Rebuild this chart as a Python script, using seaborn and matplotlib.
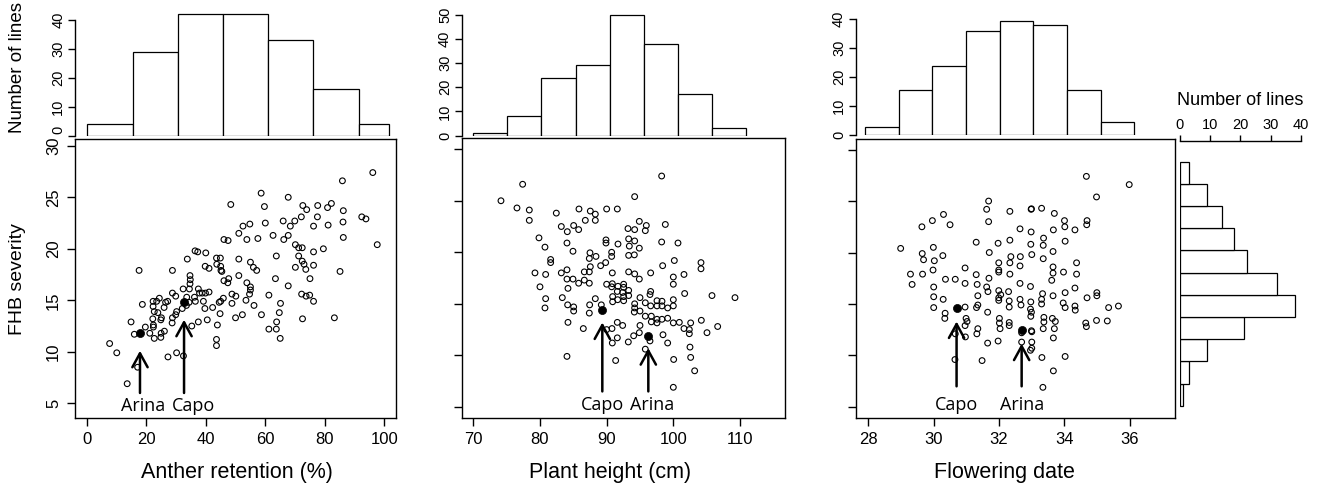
import numpy as np
import matplotlib
matplotlib.use("Agg")
import matplotlib.pyplot as plt
import matplotlib.transforms as mtransforms
import seaborn as sns

# %% data
# scatter points (trait value, FHB severity)
anther_pts = [
    (96.1, 27.4), (85.9, 26.6), (58.6, 25.4), (67.7, 25.0), (48.4, 24.3), (59.7, 24.1), (72.6, 24.2),
    (77.6, 24.2), (82.2, 24.4), (73.9, 23.8), (80.9, 24.0), (86.2, 23.7), (92.4, 23.1), (93.8, 22.9),
    (77.5, 23.1), (72.1, 23.1), (66.0, 22.7), (69.9, 22.7), (52.5, 22.2), (54.8, 22.4), (68.4, 22.2),
    (76.2, 22.2), (81.1, 22.3), (51.1, 21.5), (53.8, 20.9), (62.6, 21.3), (67.7, 21.3), (66.2, 20.9),
    (86.1, 22.6), (86.2, 21.1), (97.6, 20.4), (46.1, 20.9), (47.5, 20.8), (57.5, 21.0), (60.0, 22.5),
    (70.1, 20.4), (71.2, 20.1), (72.4, 20.1), (79.5, 20.0), (76.2, 19.7), (63.7, 19.3), (71.2, 19.3),
    (72.4, 18.8), (36.4, 19.8), (37.3, 19.7), (40.0, 19.6), (33.8, 19.0), (43.6, 19.1), (44.9, 19.1),
    (51.1, 19.0), (55.0, 18.7), (56.0, 18.2), (57.1, 17.9), (73.0, 18.5), (76.2, 18.4), (70.1, 18.2),
    (73.6, 18.0), (17.6, 17.9), (28.8, 17.9), (39.8, 18.3), (41.1, 18.1), (43.7, 18.5), (45.0, 18.3),
    (45.1, 17.9), (45.4, 17.8), (34.7, 17.4), (34.8, 17.0), (34.7, 16.6), (34.5, 16.1), (37.5, 16.1),
    (39.9, 15.7), (41.1, 15.8), (38.8, 15.7), (46.1, 16.9), (47.7, 17.1), (47.4, 16.7), (51.1, 17.4),
    (53.8, 16.7), (55.0, 16.3), (55.0, 16.0), (54.7, 15.6), (53.5, 15.0), (50.1, 15.4), (48.8, 15.6),
    (45.9, 15.2), (45.0, 14.9), (48.8, 14.7), (63.4, 17.1), (67.7, 16.4), (75.0, 17.1), (74.9, 15.5),
    (72.2, 15.6), (73.7, 15.4), (76.2, 14.9), (72.5, 13.2), (85.1, 17.8), (83.2, 13.3), (61.2, 15.5),
    (65.1, 14.7), (64.7, 13.8), (63.8, 12.9), (58.7, 13.6), (56.2, 14.5), (52.3, 13.6), (50.0, 13.3),
    (44.8, 13.7), (44.5, 14.8), (42.3, 14.3), (39.7, 14.2), (40.5, 13.1), (37.9, 15.7), (36.2, 15.3),
    (33.6, 15.3), (32.4, 16.1), (28.8, 15.7), (29.9, 15.4), (26.5, 14.8), (26.0, 14.3), (27.2, 14.9),
    (24.4, 15.2), (23.5, 14.9), (22.3, 14.9), (22.3, 14.4), (22.7, 13.9), (22.2, 13.2), (23.9, 13.8),
    (24.9, 13.1), (25.1, 13.3), (28.8, 13.3), (29.9, 13.6), (30.2, 13.9), (32.1, 14.2), (33.5, 14.5),
    (34.4, 14.8), (36.5, 14.9), (39.2, 14.9), (37.5, 12.9), (14.9, 12.9), (18.7, 14.6), (19.7, 12.4),
    (22.4, 12.6), (22.4, 12.4), (28.7, 12.8), (43.9, 12.6), (61.2, 12.2), (63.7, 12.2), (65.0, 11.3),
    (16.0, 11.7), (21.2, 11.8), (22.7, 11.3), (24.9, 11.4), (25.0, 11.8), (26.1, 12.0), (7.7, 10.8),
    (10.1, 9.9), (27.3, 9.5), (30.2, 9.9), (32.5, 9.6), (17.1, 8.5), (13.6, 6.9), (43.6, 11.2),
    (43.6, 10.6), (35.3, 12.5),
]
height_pts = [
    (98.25, 27.4), (77.4, 26.6), (74.15, 25.0), (76.55, 24.3), (78.4, 24.1), (78.4, 23.1), (82.45, 23.8),
    (85.85, 24.2), (87.55, 24.0), (88.3, 23.7), (88.3, 23.1), (86.8, 23.1), (90.0, 24.2), (91.6, 24.2),
    (94.2, 25.4), (83.2, 22.5), (84.1, 22.0), (85.05, 22.6), (85.8, 22.2), (93.2, 22.3), (94.2, 22.2),
    (94.9, 23.0), (95.8, 22.1), (95.95, 22.6), (98.8, 22.7), (79.85, 21.4), (80.75, 20.5), (84.05, 20.9),
    (84.95, 20.1), (81.6, 19.3), (81.6, 19.0), (89.9, 21.2), (89.9, 20.9), (91.7, 20.8), (93.3, 21.3),
    (94.2, 21.1), (93.4, 20.6), (94.9, 20.4), (90.75, 20.0), (90.75, 19.6), (87.5, 19.95), (87.4, 19.4),
    (88.4, 19.6), (93.3, 19.7), (94.15, 19.75), (98.25, 21.0), (100.7, 20.9), (100.15, 19.2), (98.4, 18.7),
    (104.15, 19.0), (104.15, 18.4), (89.85, 19.0), (89.1, 18.7), (79.25, 18.0), (80.85, 17.85), (83.2, 18.0),
    (84.05, 18.3), (84.05, 17.4), (84.95, 17.4), (85.8, 17.0), (86.65, 18.1), (86.65, 17.3), (87.55, 18.6),
    (87.4, 18.1), (87.4, 17.0), (90.85, 18.0), (93.3, 18.1), (94.2, 17.9), (94.9, 17.4), (96.6, 18.0),
    (100.0, 17.6), (100.0, 16.9), (101.6, 17.85), (80.0, 16.65), (84.2, 16.5), (80.85, 15.5), (80.75, 14.6),
    (83.35, 15.6), (84.15, 14.9), (85.05, 14.7), (85.05, 14.3), (87.45, 14.9), (87.4, 14.1), (88.3, 15.5),
    (89.2, 14.9), (90.0, 16.9), (90.85, 16.95), (90.75, 16.65), (91.7, 16.7), (92.55, 16.9), (92.55, 16.6),
    (91.6, 16.2), (92.4, 16.1), (93.3, 16.3), (93.3, 15.8), (90.9, 15.7), (90.9, 15.2), (91.65, 15.4),
    (92.55, 15.7), (92.55, 15.3), (95.0, 15.6), (96.6, 16.2), (96.5, 15.9), (94.2, 15.0), (94.2, 14.6),
    (94.15, 14.2), (95.0, 14.3), (95.8, 15.1), (96.6, 14.8), (97.55, 15.3), (98.3, 15.25), (97.55, 14.8),
    (98.3, 14.8), (99.15, 14.6), (100.0, 15.4), (100.0, 14.8), (101.7, 16.0), (105.8, 15.8), (109.25, 15.6),
    (95.8, 13.8), (96.7, 13.8), (97.55, 13.5), (98.3, 13.5), (99.15, 13.6), (96.7, 13.25), (97.55, 13.15),
    (100.0, 13.15), (100.9, 13.2), (102.6, 13.15), (104.2, 13.4), (106.65, 12.8), (84.2, 13.2), (86.5, 12.6),
    (91.6, 13.2), (92.4, 12.9), (95.0, 12.9), (101.6, 12.6), (90.0, 12.5), (90.8, 12.6), (91.6, 11.7),
    (90.85, 11.2), (93.25, 11.3), (94.05, 11.9), (94.9, 12.2), (96.5, 11.4), (98.45, 12.0), (99.15, 11.2),
    (102.4, 12.5), (102.4, 12.1), (102.5, 10.8), (102.6, 9.8), (103.2, 8.5), (105.05, 12.2), (95.8, 10.6),
    (100.05, 9.6), (100.0, 6.9), (91.35, 9.5), (84.05, 9.9),
]
flower_pts = [
    (34.67, 27.4), (35.98, 26.6), (34.98, 25.4), (31.68, 25.0), (31.62, 24.2), (31.68, 23.0), (30.30, 23.7),
    (29.96, 23.1), (29.64, 22.5), (30.50, 22.7), (32.33, 24.0), (32.98, 24.2), (32.99, 24.25), (33.30, 24.3),
    (33.69, 23.8), (34.00, 23.1), (34.01, 22.5), (34.32, 22.2), (34.69, 23.1), (34.68, 22.7), (33.66, 22.2),
    (32.64, 22.3), (32.98, 22.0), (33.36, 21.4), (33.35, 20.7), (34.02, 21.1), (31.30, 21.0), (31.97, 20.9),
    (32.33, 21.2), (32.97, 20.8), (31.70, 20.0), (28.99, 20.4), (29.65, 19.9), (29.99, 20.5), (30.28, 19.7),
    (29.69, 19.3), (30.02, 19.2), (29.98, 18.3), (29.66, 17.9), (29.29, 17.9), (29.34, 16.9), (30.0, 16.65),
    (30.0, 15.7), (30.0, 14.65), (30.29, 15.45), (30.35, 14.1), (30.34, 13.6), (30.36, 17.4), (30.66, 17.4),
    (30.96, 18.5), (30.96, 17.0), (31.30, 17.85), (31.33, 16.9), (31.69, 17.5), (31.62, 16.65), (31.66, 16.2),
    (31.35, 15.8), (30.96, 14.7), (31.31, 14.65), (31.35, 14.9), (31.65, 14.2), (31.99, 19.0), (31.99, 18.3),
    (31.99, 18.1), (32.36, 19.6), (32.33, 19.0), (32.33, 17.9), (32.65, 19.6), (32.64, 18.7), (32.64, 17.0),
    (33.0, 19.8), (32.96, 16.7), (33.35, 19.4), (33.65, 20.1), (33.65, 18.6), (33.65, 18.0), (33.61, 17.3),
    (33.97, 18.1), (34.37, 19.0), (34.37, 17.9), (34.32, 16.55), (34.02, 16.1), (33.96, 15.1), (34.02, 14.65),
    (33.65, 15.8), (33.33, 16.0), (33.30, 15.45), (33.30, 15.0), (32.97, 15.2), (32.96, 14.5), (32.99, 14.2),
    (32.97, 13.8), (32.64, 15.45), (32.67, 14.9), (32.31, 15.3), (32.31, 14.7), (31.99, 16.3), (31.99, 15.6),
    (31.99, 15.35), (32.05, 15.9), (32.29, 16.2), (34.32, 14.8), (34.33, 14.4), (34.69, 15.6), (34.99, 16.1),
    (34.99, 15.8), (35.35, 14.65), (35.65, 14.8), (34.98, 13.4), (35.31, 13.35), (34.65, 13.15), (33.63, 13.6),
    (33.37, 13.7), (33.37, 13.25), (33.72, 13.3), (32.01, 13.6), (32.01, 13.15), (32.31, 13.2), (32.31, 12.9),
    (30.99, 13.6), (31.02, 13.3), (31.35, 12.6), (30.96, 12.9), (32.99, 12.4), (32.03, 12.6), (34.67, 12.8),
    (30.66, 12.1), (30.97, 11.8), (31.32, 12.1), (31.65, 11.2), (31.97, 11.4), (32.69, 12.2), (32.69, 11.3),
    (33.0, 12.3), (33.0, 11.3), (33.0, 10.7), (32.96, 10.5), (33.35, 12.6), (33.69, 12.6), (33.66, 11.7),
    (30.65, 9.6), (31.48, 9.5), (33.31, 9.8), (34.02, 9.9), (33.66, 8.5), (33.34, 6.9),
]

# parents (filled dots with arrows)
cultivars = ["Arina", "Capo"]
anther_cv_x = [17.9, 32.7]
anther_cv_y = [11.85, 14.86]
height_cv_x = [96.25, 89.35]
height_cv_y = [11.9, 14.39]
flower_cv_x = [32.69, 30.70]
flower_cv_y = [12.45, 14.6]

# marginal histograms (bin edges, counts)
anther_bins = [0, 15, 30, 45, 60, 75, 90, 100]
anther_counts = [4, 29, 42, 42, 33, 16, 4]
height_bins = [70, 75, 80, 85, 90, 95, 100, 105, 110]
height_counts = [1, 8, 24, 29, 50, 38, 17, 3]
flower_bins = [28, 29, 30, 31, 32, 33, 34, 35, 36]
flower_counts = [2.7, 15.6, 23.7, 35.8, 39.5, 37.9, 15.6, 4.4]
fhb_bins = [6, 8, 10, 12, 14, 16, 18, 20, 22, 24, 26, 28]
fhb_counts = [1, 3, 9, 21, 38, 32, 22, 18, 14, 9, 3]

# %% style
sns.set_style("ticks")
plt.rcParams["font.family"] = ["Liberation Sans", "DejaVu Sans"]
plt.rcParams["axes.linewidth"] = 1.0
plt.rcParams["axes.edgecolor"] = "black"
plt.rcParams["axes.labelcolor"] = "black"
plt.rcParams["text.color"] = "black"
plt.rcParams["xtick.color"] = "black"
plt.rcParams["ytick.color"] = "black"
plt.rcParams["xtick.major.width"] = 1.0
plt.rcParams["ytick.major.width"] = 1.0

W, H = 1317, 488
fig = plt.figure(figsize=(W / 100, H / 100), dpi=100)


def px_box(l, t, r, b):
    return [l / W, 1 - b / H, (r - l) / W, (b - t) / H]


def mids(edges):
    return [(a + b) / 2 for a, b in zip(edges[:-1], edges[1:])]


panels = [
    dict(pts=anther_pts, cvx=anther_cv_x, cvy=anther_cv_y, bins=anther_bins, counts=anther_counts,
         box=(75, 139.3, 396, 418), hbox=(75, 10, 396, 135.7),
         xlim=(-3.93, 103.9), ylim=(3.57, 30.63), hxlim=(-4.08, 102.42), hylim=(0, 43.46),
         xticks=[0, 20, 40, 60, 80, 100], hticks=[0, 10, 20, 30, 40],
         xlabel="Anther retention (%)", xlab_pos=0.503,
         gap=1.75, tail=6.0, lab_y=4.75, lab_dx=[1.1, 3.2]),
    dict(pts=height_pts, cvx=height_cv_x, cvy=height_cv_y, bins=height_bins, counts=height_counts,
         box=(461.7, 138.3, 785, 417.7), hbox=(461.7, 10, 785, 135.5),
         xlim=(68.26, 116.75), ylim=(3.95, 31.06), hxlim=(68.30, 115.72), hylim=(0, 51.99),
         xticks=[70, 80, 90, 100, 110], hticks=[0, 10, 20, 30, 40, 50],
         xlabel="Plant height (cm)", xlab_pos=0.459,
         gap=1.2, tail=6.5, lab_y=5.15, lab_dx=[1.3, 0.0]),
    dict(pts=flower_pts, cvx=flower_cv_x, cvy=flower_cv_y, bins=flower_bins, counts=flower_counts,
         box=(855.7, 138.7, 1175, 417.7), hbox=(855.7, 10, 1175, 135),
         xlim=(27.615, 37.38), ylim=(3.95, 31.06), hxlim=(27.724, 37.209), hylim=(0, 43.2),
         xticks=[28, 30, 32, 34, 36], hticks=[0, 10, 20, 30, 40],
         xlabel="Flowering date", xlab_pos=0.466,
         gap=1.3, tail=7.0, lab_y=5.15, lab_dx=[0.1, 0.05]),
]

for i, p in enumerate(panels):
    # scatter
    ax = fig.add_axes(px_box(*p["box"]))
    xs = [q[0] for q in p["pts"]]
    ys = [q[1] for q in p["pts"]]
    sns.scatterplot(x=xs, y=ys, ax=ax, s=17, marker="o", facecolor="none",
                    edgecolor="black", linewidth=0.8, legend=False)
    sns.scatterplot(x=p["cvx"], y=p["cvy"], ax=ax, s=34, marker="o", color="black",
                    edgecolor="black", linewidth=0.5, legend=False)
    for name, cx, cy, dx in zip(cultivars, p["cvx"], p["cvy"], p["lab_dx"]):
        ax.annotate("", xy=(cx, cy - p["gap"]), xytext=(cx, p["tail"]),
                    arrowprops=dict(arrowstyle="->,head_length=1.0,head_width=0.55",
                                    lw=1.8, color="black", mutation_scale=10,
                                    shrinkA=0, shrinkB=0))
        ax.text(cx + dx * (p["xlim"][1] - p["xlim"][0]) / 108, p["lab_y"], name,
                ha="center", va="center", fontsize=13, family=["Open Sans", "DejaVu Sans"])
    ax.set_xlim(*p["xlim"])
    ax.set_ylim(*p["ylim"])
    ax.set_xticks(p["xticks"])
    ax.set_yticks([5, 10, 15, 20, 25, 30])
    ax.tick_params(axis="both", length=6, pad=4, labelsize=12, direction="out")
    ax.tick_params(axis="y", labelrotation=90)
    for s in ax.spines.values():
        s.set_visible(True)
        s.set_color("black")
    ax.set_xlabel(p["xlabel"], fontsize=15.5)
    ax.xaxis.set_label_coords(p["xlab_pos"], -0.197)
    ax.xaxis.label.set_va("center")
    if i == 0:
        ax.set_ylabel("FHB severity", fontsize=14)
        ax.yaxis.set_label_coords(-0.178, 0.5)
        ax.yaxis.label.set_va("center")
        for lab in ax.get_yticklabels():
            lab.set_va("center")
    else:
        ax.set_yticklabels([])
        ax.set_ylabel("")

    # top histogram
    hx = fig.add_axes(px_box(*p["hbox"]))
    sns.histplot(x=mids(p["bins"]), weights=p["counts"], bins=list(p["bins"]), ax=hx,
                 color="white", edgecolor="black", linewidth=0.9, alpha=1)
    hx.set_xlim(*p["hxlim"])
    hx.set_ylim(*p["hylim"])
    hx.set_facecolor("none")
    for side in ["top", "right", "bottom"]:
        hx.spines[side].set_visible(False)
    hx.spines["left"].set_bounds(p["hticks"][0], p["hticks"][-1])
    hx.set_xticks([])
    hx.set_yticks(p["hticks"])
    hx.tick_params(axis="y", length=5, pad=2, labelsize=10.5, labelrotation=90)
    for lab in hx.get_yticklabels():
        lab.set_va("center")
    hx.set_xlabel("")
    if i == 0:
        hx.set_ylabel("Number of lines", fontsize=13.5)
        hx.yaxis.set_label_coords(-0.178, 0.54)
        hx.yaxis.label.set_va("center")
        # lift the "0" a little so it clears the "30" of the scatter below
        zero_lab = hx.get_yticklabels()[0]
        zero_lab.set_transform(zero_lab.get_transform() +
                               mtransforms.ScaledTranslation(0, 4 / 72, fig.dpi_scale_trans))
    else:
        hx.set_ylabel("")

# right-hand histogram of FHB severity
rx = fig.add_axes(px_box(1180, 140.5, 1310, 417.7))
sns.histplot(y=mids(fhb_bins), weights=fhb_counts, bins=list(fhb_bins), ax=rx, color="white",
             edgecolor="black", linewidth=0.9, alpha=1)
rx.set_xlim(0, 42.98)
rx.set_ylim(4.918, 29.91)
rx.set_facecolor("none")
for side in ["bottom", "right", "left"]:
    rx.spines[side].set_visible(False)
rx.spines["top"].set_visible(True)
rx.spines["top"].set_bounds(0, 40)
rx.xaxis.tick_top()
rx.set_xticks([0, 10, 20, 30, 40])
rx.set_yticks([])
rx.tick_params(axis="x", length=4, pad=2, labelsize=10.5)
rx.set_ylabel("")
rx.xaxis.set_label_position("top")
rx.set_xlabel("Number of lines", fontsize=13)
rx.xaxis.set_label_coords(0.464, 1.146)
rx.xaxis.label.set_va("center")

fig.savefig("out.png", dpi=100)
